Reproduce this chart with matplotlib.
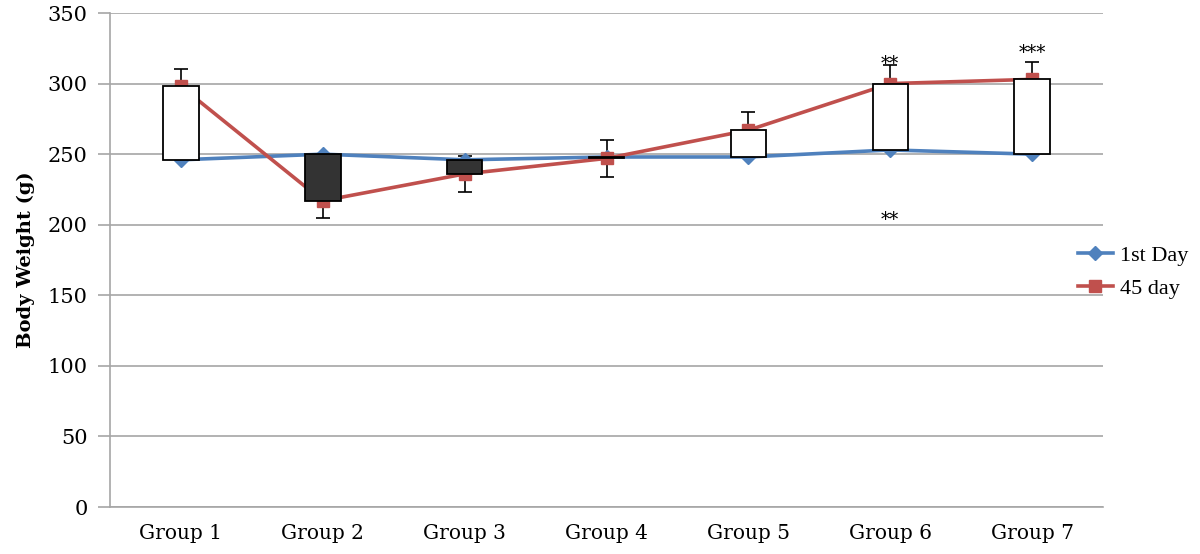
import numpy as np
import matplotlib.pyplot as plt
from matplotlib.lines import Line2D

# data
groups = ["Group 1", "Group 2", "Group 3", "Group 4", "Group 5", "Group 6", "Group 7"]
day1 = [246, 250, 246, 248, 248, 253, 250]
day45 = [298, 217, 236, 247, 267, 300, 303]
err45 = [12, 12, 13, 13, 13, 13, 12]
yticks = [0, 50, 100, 150, 200, 250, 300, 350]

blue = "#4F81BD"
red = "#C0504D"
grid = "#A6A6A6"

plt.rcParams['font.family'] = ["DejaVu Serif"]

fig = plt.figure(figsize=(12, 5.54), dpi=100)
ax = fig.add_axes([0.0917, 0.0848, 0.8275, 0.8917])

x = np.arange(len(groups))

# lines with markers
ax.plot(x, day1, color=blue, lw=2.6, marker="D", ms=7, mec=blue, mfc=blue, zorder=3)
ax.plot(x, day45, color=red, lw=2.6, marker="s", ms=8, mec=red, mfc=red, zorder=3)

# error bars on the 45 day series
ax.errorbar(x, day45, yerr=err45, fmt="none", ecolor="black", elinewidth=1.2,
            capsize=5, capthick=1.2, zorder=2.5)

# up/down bars
lo = np.minimum(day1, day45)
hi = np.maximum(day1, day45)
cols = ["white" if b > a else "#333333" for a, b in zip(day1, day45)]
ax.bar(x, hi - lo, bottom=lo, width=0.25, color=cols, edgecolor="black",
       linewidth=1.3, zorder=4)

# significance marks
ax.text(x[5], 314, "**", ha="center", va="center", fontsize=13, zorder=5)
ax.text(x[6], 322, "***", ha="center", va="center", fontsize=13, zorder=5)
ax.text(x[5], 203, "**", ha="center", va="center", fontsize=13, zorder=5)

ax.set_xlim(-0.5, len(groups) - 0.5)
ax.set_ylim(0, 350)
ax.set_yticks(yticks)
ax.set_xticks(x)
ax.set_xticklabels(groups)
ax.yaxis.grid(True, color=grid, lw=1.2)
ax.set_axisbelow(True)

for s in ["top", "right"]:
    ax.spines[s].set_visible(False)
for s in ["left", "bottom"]:
    ax.spines[s].set_color(grid)
    ax.spines[s].set_linewidth(1.2)

ax.tick_params(axis="y", length=9, color=grid, width=1.2, labelsize=15, pad=7)
ax.tick_params(axis="x", length=0, labelsize=14.5, pad=12)
ax.set_ylabel("Body Weight (g)", fontsize=14, fontweight="bold", labelpad=9)

handles = [Line2D([], [], color=blue, lw=2.6, marker="D", ms=7),
           Line2D([], [], color=red, lw=2.6, marker="s", ms=8)]
fig.legend(handles, ["1st Day", "45 day"], loc="center left",
           bbox_to_anchor=(0.898, 0.509), frameon=False,
           prop={"family": "Liberation Serif", "size": 16},
           borderpad=0, borderaxespad=0,
           handlelength=1.6, handletextpad=0.3, labelspacing=0.55)

fig.savefig("out.png", dpi=100)
